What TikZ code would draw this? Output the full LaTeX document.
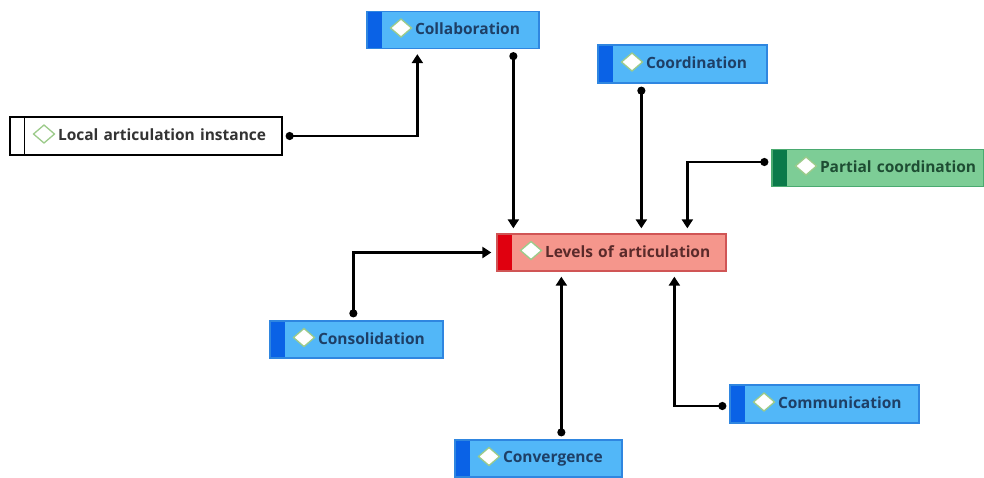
\documentclass[tikz,border=0pt]{standalone}
\usepackage{fontspec}
\newfontfamily\boxfont{Open Sans}
\usetikzlibrary{arrows.meta}
\definecolor{bluefill}{HTML}{52B7F8}
\definecolor{bluestripe}{HTML}{0A62E6}
\definecolor{blueborder}{HTML}{2F86E0}
\definecolor{bluetext}{HTML}{1E3F66}
\definecolor{redfill}{HTML}{F5968C}
\definecolor{redstripe}{HTML}{E0000F}
\definecolor{redborder}{HTML}{D05555}
\definecolor{redtext}{HTML}{5A2A2A}
\definecolor{greenfill}{HTML}{7DCD96}
\definecolor{greenstripe}{HTML}{0B7A4A}
\definecolor{greenborder}{HTML}{4AAA70}
\definecolor{greentext}{HTML}{1E4D33}
\definecolor{diamondline}{HTML}{9CCB8A}
\tikzset{
  stripecolor/.code={\colorlet{stripecol}{#1}},
  lbox/.style={rectangle, line width=1.3pt, inner xsep=0pt, inner ysep=0pt,
    minimum height=37pt, align=left,
    font=\boxfont\bfseries\fontsize{15.5}{18}\selectfont,
    path picture={
      \fill[stripecol] (path picture bounding box.south west) rectangle ([xshift=15pt]path picture bounding box.north west);
      \draw[diamondline, fill=white, line width=1.3pt]
        ([xshift=23.5pt,yshift=2pt]path picture bounding box.west) -- ++(10.5,-9) -- ++(10.5,9) -- ++(-10.5,9) -- cycle;
    }},
  bluebox/.style={lbox, fill=bluefill, draw=blueborder, text=bluetext, stripecolor=bluestripe},
  redbox/.style={lbox, fill=redfill, draw=redborder, text=redtext, stripecolor=redstripe},
  greenbox/.style={lbox, fill=greenfill, draw=greenborder, text=greentext, stripecolor=greenstripe},
  whitebox/.style={lbox, fill=white, draw=black, text=black!80, stripecolor=white},
  conn/.style={line width=2.4pt, black, {Circle[length=8pt]}-{Triangle[width=11pt,length=9pt]},
    shorten <=3pt, shorten >=5pt},
}
\begin{document}
\begin{tikzpicture}[x=1pt,y=-1pt]
\useasboundingbox (0,0) rectangle (984,477);
\node[bluebox, text width=172pt] (collab) at (453,30) {\hspace*{48pt}\raisebox{2pt}{Collaboration}};
\node[whitebox, text width=272pt, minimum height=38pt] (local) at (146,136) {\hspace*{48pt}\raisebox{2pt}{Local articulation instance}};
\draw[black, line width=1.3pt] ([xshift=15pt]local.south west) -- ([xshift=15pt]local.north west);
\node[bluebox, text width=169pt, minimum height=38pt] (coord) at (682.5,64) {\hspace*{48pt}\raisebox{2pt}{Coordination}};
\node[greenbox, text width=212pt] (partial) at (878,168) {\hspace*{48pt}\raisebox{2pt}{Partial coordination}};
\node[redbox, text width=229pt] (levels) at (611.5,252.5) {\hspace*{48pt}\raisebox{2pt}{Levels of articulation}};
\node[bluebox, text width=173pt] (consol) at (356.5,339.5) {\hspace*{48pt}\raisebox{2pt}{Consolidation}};
\node[bluebox, text width=189pt, minimum height=38pt] (comm) at (824.5,404) {\hspace*{48pt}\raisebox{2pt}{Communication}};
\node[bluebox, text width=167pt] (conv) at (538.5,458.5) {\hspace*{48pt}\raisebox{2pt}{Convergence}};

\coordinate (p1) at ([xshift=51pt]collab.south west);
\coordinate (p2) at ([xshift=147pt]collab.south west);
\coordinate (p3) at ([xshift=44pt]coord.south west);
\coordinate (p4) at ([xshift=191pt]levels.north west);
\coordinate (p5) at ([xshift=84pt]consol.north west);
\coordinate (p6) at ([xshift=107pt]conv.north west);
\coordinate (p7) at ([xshift=178pt]levels.south west);
\coordinate (p8) at ([yshift=6pt]partial.west);
\coordinate (p9) at ([yshift=-2pt]comm.west);

\draw[conn] (local.east) -| (p1);
\draw[conn] (p2) -- (p2 |- levels.north);
\draw[conn] (p3) -- (p3 |- levels.north);
\draw[conn] (p8) -| (p4);
\draw[conn] (p5) |- (levels.west);
\draw[conn] (p6) -- (p6 |- levels.south);
\draw[conn] (p9) -| (p7);
\end{tikzpicture}
\end{document}
